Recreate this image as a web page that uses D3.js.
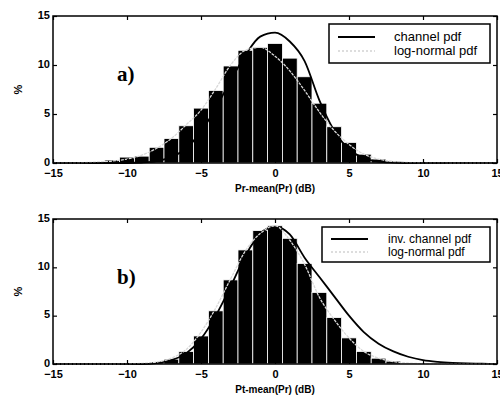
<!DOCTYPE html>
<html>
<head>
<meta charset="utf-8">
<script src="https://cdn.jsdelivr.net/npm/d3@7"></script>
<style>
  body { margin: 0; background: #fff; }
  text { font-family: "Liberation Sans", Arial, sans-serif; }
</style>
</head>
<body>
<div id="chart"></div>
<script>
// histogram bins (dB, centred on integers)
const bins = d3.range(-15, 16);

// panel a) received power histogram, % per bin
const barsA = [0, 0, 0, 0.1, 0.3, 0.6, 0.7, 1.6, 2.5, 3.8, 5.6, 7.4, 9.9, 11.5, 11.8,
  12.2, 10.7, 8.8, 6.1, 3.7, 2.1, 0.9, 0.4, 0.15, 0.05, 0, 0, 0, 0, 0, 0];
const channelA = [0, 0, 0, 0, 0, 0, 0.05, 0.2, 0.6, 1.5, 3.2, 5.6, 8.4, 11.0, 12.9,
  13.3, 12.4, 10.4, 6.4, 3.3, 1.4, 0.5, 0.15, 0.05, 0, 0, 0, 0, 0, 0, 0];
const lognormA = [0, 0.01, 0.03, 0.1, 0.2, 0.4, 0.8, 1.5, 2.5, 3.9, 5.4, 7.6, 10.0, 11.5, 11.8,
  10.9, 9.4, 7.4, 5.2, 3.3, 1.9, 0.9, 0.4, 0.15, 0.05, 0.02, 0.01, 0, 0, 0, 0];

// panel b) transmitted power histogram, % per bin
const barsB = [0, 0, 0, 0, 0, 0, 0.1, 0.2, 0.5, 1.3, 2.9, 5.5, 8.7, 11.8, 13.8,
  14.3, 13.0, 10.4, 7.4, 4.8, 2.7, 1.3, 0.6, 0.3, 0.1, 0, 0, 0, 0, 0, 0];
const invChannelB = [0, 0, 0, 0, 0, 0, 0, 0.1, 0.4, 1.1, 2.6, 5.0, 8.0, 11.2, 13.5,
  14.2, 13.4, 11.0, 9.0, 7.0, 5.0, 3.3, 2.1, 1.3, 0.75, 0.4, 0.22, 0.12, 0.06, 0.03, 0.01];
const lognormB = [0, 0, 0, 0, 0, 0.02, 0.07, 0.2, 0.6, 1.5, 3.3, 5.8, 8.8, 11.7, 13.5,
  14.3, 12.8, 10.3, 6.9, 4.6, 2.7, 1.3, 0.6, 0.25, 0.1, 0.03, 0.01, 0, 0, 0, 0];

const xTicks = [-15, -10, -5, 0, 5, 10, 15];
const yTicks = [0, 5, 10, 15];

const svg = d3.select("#chart").append("svg")
  .attr("width", 500)
  .attr("height", 399);

const x = d3.scaleLinear().domain([-15, 15]).range([53, 497]);

function drawPanel(p) {
  const y = d3.scaleLinear().domain([0, 15]).range([p.bottom, p.top]);
  const g = svg.append("g");

  // bars
  g.selectAll(".bar")
    .data(bins.map((b, i) => ({b: b, v: p.bars[i]})).filter(d => d.v > 0))
    .join("rect")
    .attr("x", d => x(d.b - 0.5))
    .attr("width", d => x(d.b + 0.5) - x(d.b - 0.5))
    .attr("y", d => y(d.v))
    .attr("height", d => y(0) - y(d.v))
    .attr("fill", "#000")
    .attr("stroke", "#fff")
    .attr("stroke-width", 0.8);

  const line = d3.line()
    .x((d, i) => x(bins[i]))
    .y(d => y(d))
    .curve(d3.curveMonotoneX);

  // model curve
  g.append("path")
    .attr("d", line(p.model))
    .attr("fill", "none")
    .attr("stroke", "#000")
    .attr("stroke-width", 1.8);

  // log-normal fit
  g.append("path")
    .attr("d", line(p.lognorm))
    .attr("fill", "none")
    .attr("stroke", "#d9d9d9")
    .attr("stroke-width", 1.3)
    .attr("stroke-dasharray", "3,1");

  // axes, ticks pointing inward
  g.append("g")
    .attr("transform", `translate(0,${p.bottom})`)
    .call(d3.axisBottom(x).tickValues(xTicks).tickSizeInner(-4).tickSizeOuter(0).tickPadding(6))
    .call(a => a.select(".domain").remove());
  g.append("g")
    .attr("transform", `translate(0,${p.top})`)
    .call(d3.axisTop(x).tickValues(xTicks).tickSizeInner(-4).tickSizeOuter(0).tickFormat(""))
    .call(a => a.select(".domain").remove());
  g.append("g")
    .attr("transform", `translate(53,0)`)
    .call(d3.axisLeft(y).tickValues(yTicks).tickSizeInner(-4).tickSizeOuter(0).tickPadding(3))
    .call(a => a.select(".domain").remove())
    .call(a => a.selectAll(".tick text").attr("dy", "0.2em"));
  g.append("g")
    .attr("transform", `translate(497,0)`)
    .call(d3.axisRight(y).tickValues(yTicks).tickSizeInner(-4).tickSizeOuter(0).tickFormat(""))
    .call(a => a.select(".domain").remove());

  g.selectAll(".tick text")
    .attr("font-family", "Liberation Sans, Arial, sans-serif")
    .attr("font-size", 11)
    .attr("font-weight", "bold")
    .attr("fill", "#000");
  g.selectAll(".tick line").attr("stroke", "#000").attr("stroke-width", 1.2);

  // frame
  g.append("rect")
    .attr("x", 53).attr("y", p.top)
    .attr("width", 444).attr("height", p.bottom - p.top)
    .attr("fill", "none")
    .attr("stroke", "#000")
    .attr("stroke-width", 1.5);

  // axis labels
  g.append("text")
    .attr("x", 275).attr("y", p.bottom + 29)
    .attr("text-anchor", "middle")
    .attr("font-size", 10)
    .attr("font-weight", "bold")
    .text(p.xlabel);
  g.append("text")
    .attr("transform", `translate(22,${(p.top + p.bottom) / 2}) rotate(-90)`)
    .attr("text-anchor", "middle")
    .attr("font-size", 11)
    .attr("font-weight", "bold")
    .text("%");

  // panel tag
  g.append("text")
    .attr("x", 117).attr("y", p.top + 65)
    .style("font-family", "Liberation Serif, Times New Roman, serif")
    .attr("font-size", 21)
    .attr("font-weight", "bold")
    .text(p.tag);

  // legend
  const L = p.legend;
  const lg = g.append("g");
  lg.append("rect")
    .attr("x", L.x).attr("y", L.y)
    .attr("width", 490 - L.x).attr("height", L.h)
    .attr("fill", "#fff")
    .attr("stroke", "#000")
    .attr("stroke-width", 1.5);
  lg.append("line")
    .attr("x1", L.x + 9).attr("x2", L.x + 46)
    .attr("y1", L.y1).attr("y2", L.y1)
    .attr("stroke", "#000").attr("stroke-width", 2);
  lg.append("line")
    .attr("x1", L.x + 9).attr("x2", L.x + 46)
    .attr("y1", L.y2).attr("y2", L.y2)
    .attr("stroke", "#bbb").attr("stroke-width", 1).attr("stroke-dasharray", "2,2");
  lg.append("text")
    .attr("x", L.tx).attr("y", L.y1 + 4)
    .attr("font-size", L.fs)
    .text(L.labels[0]);
  lg.append("text")
    .attr("x", L.tx).attr("y", L.y2 + 4)
    .attr("font-size", L.fs)
    .text(L.labels[1]);
}

drawPanel({
  top: 16, bottom: 163, bars: barsA, model: channelA, lognorm: lognormA,
  xlabel: "Pr-mean(Pr) (dB)", tag: "a)",
  legend: {x: 329, y: 24, h: 39, y1: 37, y2: 51, tx: 394, fs: 13,
    labels: ["channel pdf", "log-normal pdf"]}
});

drawPanel({
  top: 219, bottom: 364, bars: barsB, model: invChannelB, lognorm: lognormB,
  xlabel: "Pt-mean(Pr) (dB)", tag: "b)",
  legend: {x: 322, y: 227, h: 35, y1: 239, y2: 252, tx: 388, fs: 12,
    labels: ["inv. channel pdf", "log-normal pdf"]}
});
</script>
</body>
</html>
